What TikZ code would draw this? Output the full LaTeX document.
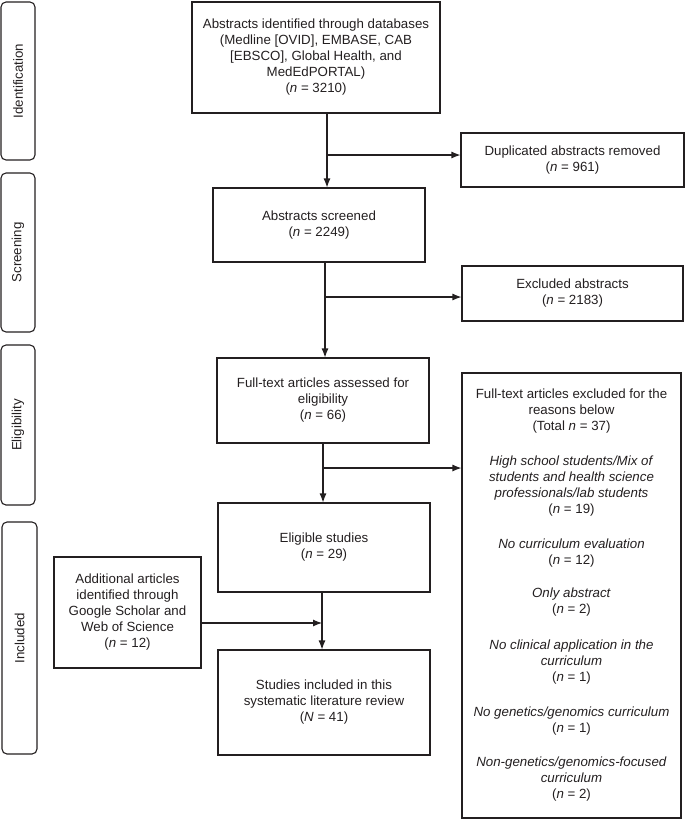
\documentclass[tikz,border=0pt]{standalone}
\usepackage{fontspec}
\setmainfont{Liberation Sans}
\usetikzlibrary{arrows.meta}
\definecolor{ink}{HTML}{231F20}
\begin{document}
\begin{tikzpicture}[x=1pt,y=-1pt,
  every node/.style={font=\fontsize{13.3}{16}\selectfont, text=ink},
  box/.style={draw=ink, line width=1.1pt, inner sep=0pt, align=center, anchor=center},
  side/.style={draw=ink, line width=1.1pt, inner sep=0pt, rounded corners=5pt, rotate=90, anchor=center},
  arr/.style={draw=ink, line width=1.1pt, -{Latex[length=9pt,width=7pt]}}]
\useasboundingbox (0,0) rectangle (685,820);

% side phase labels
\node[side, minimum width=158pt, minimum height=34pt] (id) at (18,81) {Identification};
\node[side, minimum width=159pt, minimum height=34pt] (scr) at (18,252.5) {Screening};
\node[side, minimum width=160pt, minimum height=34pt] (eli) at (18,425) {Eligibility};
\node[side, minimum width=232pt, minimum height=35pt] (inc) at (19.5,638) {Included};

% main boxes
\node[box, minimum width=248pt, minimum height=111pt] (b1) at (316,57.5)
  {Abstracts identified through databases\\(Medline [OVID], EMBASE, CAB\\\relax [EBSCO], Global Health, and\\MedEdPORTAL)\\(\textit{n} = 3210)};
\node[box, minimum width=223pt, minimum height=54pt] (dup) at (572.5,160)
  {Duplicated abstracts removed\\(\textit{n} = 961)};
\node[box, minimum width=212pt, minimum height=74pt] (b2) at (319,225)
  {Abstracts screened\\(\textit{n} = 2249)};
\node[box, minimum width=221pt, minimum height=55pt] (excl) at (572.5,293.5)
  {Excluded abstracts\\(\textit{n} = 2183)};
\node[box, minimum width=212pt, minimum height=85pt] (b3) at (323,400.5)
  {Full-text articles assessed for\\eligibility\\(\textit{n} = 66)};
\node[box, minimum width=219pt, minimum height=445pt] (big) at (571.5,595.5)
  {Full-text articles excluded for the\\reasons below\\(Total \textit{n} = 37)\\[19pt]
   \textit{High school students/Mix of}\\\textit{students and health science}\\\textit{professionals/lab students}\\(\textit{n} = 19)\\[19pt]
   \textit{No curriculum evaluation}\\(\textit{n} = 12)\\[17pt]
   \textit{Only abstract}\\(\textit{n} = 2)\\[20pt]
   \textit{No clinical application in the}\\\textit{curriculum}\\(\textit{n} = 1)\\[19pt]
   \textit{No genetics/genomics curriculum}\\(\textit{n} = 1)\\[18pt]
   \textit{Non-genetics/genomics-focused}\\\textit{curriculum}\\(\textit{n} = 2)};
\node[box, minimum width=212pt, minimum height=89pt] (b4) at (324,547.5)
  {Eligible studies\\(\textit{n} = 29)};
\node[box, minimum width=147pt, minimum height=111pt] (add) at (127.5,612.5)
  {Additional articles\\identified through\\Google Scholar and\\Web of Science\\(\textit{n} = 12)};
\node[box, minimum width=212pt, minimum height=105pt] (b5) at (324,702.5)
  {Studies included in this\\systematic literature review\\(\textit{N} = 41)};

% junction coordinates
\coordinate (s1) at (327,155);
\coordinate (s2) at (325,297);
\coordinate (s3) at (323,468);
\coordinate (s4) at (322,623);

% connectors
\draw[arr] (b1.south -| s1) -- (b2.north -| s1);
\draw[arr] (s1) -- (s1 -| dup.west);
\draw[arr] (b2.south -| s2) -- (b3.north -| s2);
\draw[arr] (s2) -- (s2 -| excl.west);
\draw[arr] (b3.south -| s3) -- (b4.north -| s3);
\draw[arr] (s3) -- (s3 -| big.west);
\draw[arr] (b4.south -| s4) -- (b5.north -| s4);
\draw[arr] (add.east |- s4) -- (s4);
\end{tikzpicture}
\end{document}
